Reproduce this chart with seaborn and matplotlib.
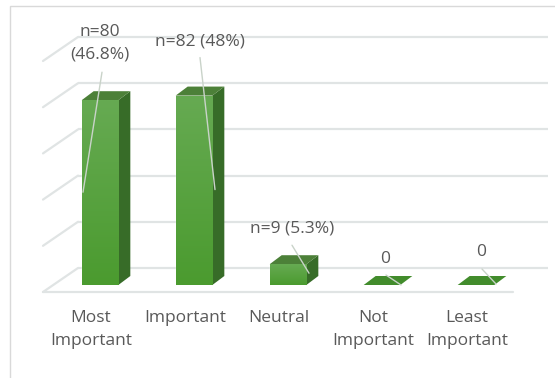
import numpy as np
import pandas as pd
import matplotlib
matplotlib.use("Agg")
import matplotlib.pyplot as plt
import matplotlib.transforms as mtransforms
from matplotlib.patches import Polygon, Rectangle
from matplotlib.colors import LinearSegmentedColormap
import seaborn as sns

# ---- data -------------------------------------------------------------
categories = ["Most\nImportant", "Important", "Neutral", "Not\nImportant", "Least\nImportant"]
counts = [80, 82, 9, 0, 0]
grid_values = [0, 20, 40, 60, 80, 100]
wrap_label = [True, False, False, False, False]

total = sum(counts)


def value_label(n, wrap):
    if n == 0:
        return "0"
    pct = f"{100 * n / total:.1f}".rstrip("0").rstrip(".")
    sep = "\n" if wrap else " "
    return f"n={n}{sep}({pct}%)"


# ---- style -------------------------------------------------------------
TEXT = "#595959"
GRID = "#e0e4e4"
FRONT_TOP = "#66aa52"
FRONT_BOT = "#4b9b2f"
SIDE = "#376c28"
TOP = "#4c8038"
FLAT_TOP = "#428c2c"
LEADER = "#c9d3c9"
FONT_SIZE = 12.5
LINE_SPACING = 1.6

sns.set_theme(style="white")
plt.rcParams["font.family"] = ["Open Sans", "DejaVu Sans"]

W, H, DPI = 555, 378, 100
fig = plt.figure(figsize=(W / DPI, H / DPI), dpi=DPI)
ax = fig.add_axes([0, 0, 1, 1])

df = pd.DataFrame({"category": categories, "count": counts})
sns.barplot(data=df, x="category", y="count", width=0.39, color=FRONT_BOT,
            saturation=1, ax=ax, zorder=3)

# Pixel geometry of the plotting plane (bar fronts)
px_per_cat = 94.0
px_per_val = 2.31
left_px = 53.0          # x=-0.5 in pixels
base_px = 285.0         # value 0, measured from the top of the image
ax.set_xlim(-0.5 - left_px / px_per_cat, -0.5 + (W - left_px) / px_per_cat)
ax.set_ylim(-(H - base_px) / px_per_val, base_px / px_per_val)
ax.axis("off")


def shifted(dx, dy):
    return mtransforms.offset_copy(ax.transData, fig=fig, x=dx, y=dy, units="dots")


def dd(dx_px, dy_px):
    """pixel offset -> data offset"""
    return dx_px / px_per_cat, dy_px / px_per_val


# ---- walls & floor -----------------------------------------------------
BACK = (25, 17)
FRONT = (-10, -7)
xl, xr = -0.5, len(categories) - 0.5
for v in grid_values:
    ax.plot([xl, xr], [v, v], color=GRID, lw=1.6, transform=shifted(*BACK),
            zorder=1, solid_capstyle="butt")
    bx, by = dd(*BACK)
    fx, fy = dd(*FRONT)
    ax.plot([xl + fx, xl + bx], [v + fy, v + by], color=GRID, lw=1.6, zorder=1)
ax.plot([xl, xr], [0, 0], color=GRID, lw=1.6, transform=shifted(*FRONT), zorder=1)

# ---- 3-D bars ----------------------------------------------------------
DEPTH = dd(12, 9)
grad = LinearSegmentedColormap.from_list("g", [FRONT_BOT, FRONT_TOP])
bars = [p for p in ax.patches if isinstance(p, Rectangle)]
for bar, n in zip(bars, counts):
    x0 = bar.get_x()
    x1 = x0 + bar.get_width()
    h = bar.get_height()
    ddx, ddy = DEPTH
    if h > 0:
        img = ax.imshow(np.linspace(0, 1, 64).reshape(-1, 1), cmap=grad,
                        extent=[x0, x1, 0, h], origin="lower", aspect="auto",
                        zorder=3.5, interpolation="bilinear")
        img.set_clip_path(bar)
        side = Polygon([(x1, 0), (x1, h), (x1 + ddx, h + ddy), (x1 + ddx, ddy)],
                       closed=True, fc=SIDE, ec="none", zorder=3)
        ax.add_patch(side)
        top_c = TOP
    else:
        bar.set_visible(False)
        top_c = FLAT_TOP
    top = Polygon([(x0, h), (x1, h), (x1 + ddx, h + ddy), (x0 + ddx, h + ddy)],
                  closed=True, fc=top_c, ec="none", zorder=3)
    ax.add_patch(top)

# ---- value labels with leader lines ---------------------------------------
# (label centre offset, leader start offset, leader end offset) in pixels,
# relative to the top-centre of each bar front
label_offsets = [(0, 57), (6, 54), (4, 36), (3, 26), (5, 33)]
leader_start = [(2, 28), (6, 38), (4, 19), (4, 10), (6, 16)]
leader_end = [(-17, -92), (21, -94), (21, -9), (19, 0), (20, 1)]
for i, (n, wrap) in enumerate(zip(counts, wrap_label)):
    cx = i
    lx, ly = dd(*label_offsets[i])
    ax.text(cx + lx, n + ly, value_label(n, wrap), ha="center", va="center",
            fontsize=FONT_SIZE, color=TEXT, linespacing=LINE_SPACING, zorder=6)
    sx, sy = dd(*leader_start[i])
    ex, ey = dd(*leader_end[i])
    ax.plot([cx + sx, cx + ex], [n + sy, n + ey], color=LEADER, lw=1.0, zorder=5)

# ---- category labels -------------------------------------------------------
lab_tr = mtransforms.offset_copy(
    mtransforms.blended_transform_factory(ax.transData, fig.transFigure),
    fig=fig, x=-9, y=0, units="dots")
for i, c in enumerate(categories):
    ax.text(i, 1 - 310 / H, c, transform=lab_tr, ha="center", va="top",
            fontsize=FONT_SIZE, color=TEXT, linespacing=LINE_SPACING)

# ---- chart frame -------------------------------------------------------------
fig.patches.append(Rectangle((10 / W, -0.1), 1.2, 1.1 - 6 / H,
                             transform=fig.transFigure, fill=False,
                             ec="#d9d9d9", lw=1.0))

fig.savefig("out.png", dpi=DPI)
